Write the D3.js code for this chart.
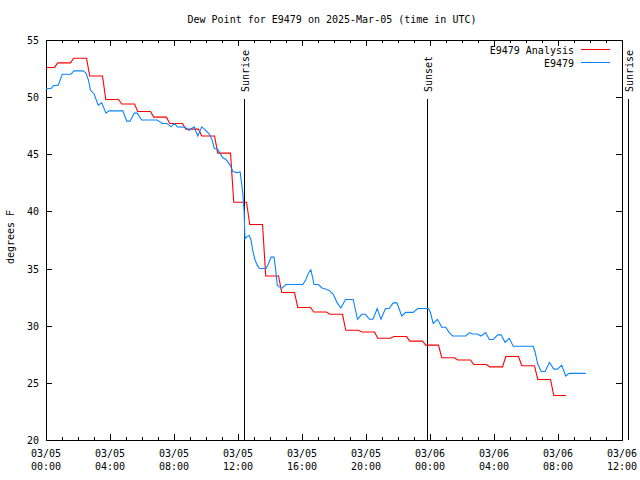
<!DOCTYPE html>
<html><head><meta charset="utf-8">
<script src="https://cdn.jsdelivr.net/npm/d3@7"></script>
<style>body{margin:0;background:#fff}svg{display:block}text{font-family:"DejaVu Sans Mono",monospace;font-size:10px;fill:#000}</style>
</head><body>
<svg id="c" width="640" height="480"></svg>
<script>
const title = "Dew Point for E9479 on 2025-Mar-05 (time in UTC)";
const yLabel = "degrees F";
const yTicks = [20, 25, 30, 35, 40, 45, 50, 55];
const xTickHours = [0, 4, 8, 12, 16, 20, 24, 28, 32, 36];
const xTickDates = ["03/05", "03/05", "03/05", "03/05", "03/05", "03/05", "03/06", "03/06", "03/06", "03/06"];
const xTickTimes = ["00:00", "04:00", "08:00", "12:00", "16:00", "20:00", "00:00", "04:00", "08:00", "12:00"];
const seriesNames = ["E9479 Analysis", "E9479"];
const seriesColors = ["#ff0000", "#0a84ff"];
// hourly analysis values (hour offset from 03/05 00:00 UTC)
const analysisHours = [0,1,2,3,4,5,6,7,8,9,10,11,12,13,14,15,16,17,18,19,20,21,22,23,24,25,26,27,28,29,30,31,32];
const analysisValues = [52.6,53.0,53.4,51.85,49.8,49.4,48.75,48.25,47.7,47.2,46.6,45.1,40.8,38.85,34.35,32.9,31.6,31.2,31.0,29.6,29.45,28.9,29.05,28.65,28.3,27.2,27.0,26.6,26.4,27.3,26.5,25.3,23.9];
// observations (minutes from 03/05 00:00 UTC)
const obsMinutes = [0,19,27,46,61,93,105,139,150,159,167,180,186,196,209,225,236,288,303,315,331,342,359,416,437,453,469,481,494,521,536,556,569,584,596,613,624,631,644,652,663,675,689,701,715,728,738,743,746,753,762,769,775,784,792,800,825,834,844,855,861,867,875,884,890,900,963,974,984,993,1000,1005,1021,1035,1051,1064,1077,1092,1106,1123,1152,1168,1184,1198,1213,1226,1242,1256,1273,1287,1302,1316,1334,1349,1377,1394,1434,1441,1452,1468,1484,1499,1512,1525,1574,1588,1599,1618,1631,1649,1662,1677,1694,1707,1721,1737,1752,1827,1834,1844,1857,1872,1888,1904,1918,1934,1949,1962,2024];
const obsValues = [50.75,50.75,51.0,51.05,52.0,52.0,52.3,52.3,52.1,51.5,50.6,50.3,49.9,49.3,49.5,48.6,48.8,48.8,47.9,47.9,48.6,48.6,48.0,48.0,47.7,47.7,47.4,47.7,47.4,47.36,47.1,47.4,46.6,47.4,47.15,46.75,46.2,45.5,45.45,45.1,44.7,44.55,44.1,43.5,43.4,43.45,41.6,40.0,37.6,37.8,37.9,37.5,36.6,35.75,35.3,35.0,35.0,35.4,36.0,36.0,35.0,33.56,33.4,33.27,33.4,33.6,33.6,34.0,34.6,34.9,34.2,33.6,33.6,33.3,33.2,33.05,32.75,32.0,31.55,32.3,32.3,30.56,31.0,31.0,30.56,30.56,31.5,30.56,31.5,31.5,32.0,32.0,30.85,31.17,31.17,31.5,31.5,31.2,30.2,30.56,29.86,29.86,29.4,29.1,29.1,29.4,29.27,29.27,29.1,29.4,28.8,28.8,29.2,29.2,28.55,28.9,28.2,28.2,27.7,26.65,26.0,26.0,26.8,26.2,26.2,26.55,25.6,25.83,25.83];
const eventNames = ["Sunrise", "Sunset", "Sunrise"];
const eventMinutes = [743, 1430, 2181];

const base = Date.UTC(2025, 2, 5, 0, 0);
const tMin = m => new Date(base + m * 60000);
const tHour = h => tMin(h * 60);

const L = 46, R = 622, T = 40, B = 440;
const svg = d3.select("#c");
const x = d3.scaleUtc().domain([tHour(0), tHour(36)]).range([L, R]);
const y = d3.scaleLinear().domain([20, 55]).range([B, T]);

svg.append("rect").attr("width", 640).attr("height", 480).attr("fill", "#fff");

// title
svg.append("text").attr("x", 332).attr("y", 23).attr("text-anchor", "middle").text(title);
// y label
svg.append("text").attr("transform", "translate(14,237) rotate(-90)").attr("text-anchor", "middle").text(yLabel);

const g = svg.append("g").attr("shape-rendering", "crispEdges");

// axes with inward ticks (mirrored)
const hourly = d3.range(0, 37).map(tHour);
const majors = xTickHours.map(tHour);
g.append("g").attr("transform", `translate(0,${B})`)
  .call(d3.axisBottom(x).tickValues(hourly).tickSize(-3).tickFormat(""))
  .call(a => a.select(".domain").remove());
g.append("g").attr("transform", `translate(0,${B})`)
  .call(d3.axisBottom(x).tickValues(majors).tickSize(-6).tickFormat(""))
  .call(a => a.select(".domain").remove());
g.append("g").attr("transform", `translate(0,${T})`)
  .call(d3.axisTop(x).tickValues(hourly).tickSize(-3).tickFormat(""))
  .call(a => a.select(".domain").remove());
g.append("g").attr("transform", `translate(0,${T})`)
  .call(d3.axisTop(x).tickValues(majors).tickSize(-6).tickFormat(""))
  .call(a => a.select(".domain").remove());
g.append("g").attr("transform", `translate(${L},0)`)
  .call(d3.axisLeft(y).tickValues(yTicks).tickSize(-6).tickFormat(""))
  .call(a => a.select(".domain").remove());
g.append("g").attr("transform", `translate(${R},0)`)
  .call(d3.axisRight(y).tickValues(yTicks).tickSize(-6).tickFormat(""))
  .call(a => a.select(".domain").remove());
g.selectAll(".tick line").attr("stroke", "#000");

// frame
g.append("rect").attr("x", L).attr("y", T).attr("width", R - L).attr("height", B - T)
  .attr("fill", "none").attr("stroke", "#000");

// tick labels
svg.append("g").selectAll("text").data(yTicks).join("text")
  .attr("x", 39).attr("y", d => y(d) + 4).attr("text-anchor", "end").text(d => d);
const xl = svg.append("g").selectAll("g").data(xTickHours).join("g");
xl.append("text").attr("x", d => x(tHour(d))).attr("y", 457).attr("text-anchor", "middle").text((d, i) => xTickDates[i]);
xl.append("text").attr("x", d => x(tHour(d))).attr("y", 470).attr("text-anchor", "middle").text((d, i) => xTickTimes[i]);

// event lines
const ev = svg.append("g").selectAll("g").data(eventMinutes).join("g");
ev.append("line").attr("x1", d => Math.round(x(tMin(d))) + 0.5).attr("x2", d => Math.round(x(tMin(d))) + 0.5)
  .attr("y1", 99).attr("y2", B).attr("stroke", "#000").attr("shape-rendering", "crispEdges");
ev.append("text").attr("transform", d => `translate(${x(tMin(d)) + 5},92) rotate(-90)`)
  .attr("text-anchor", "start").text((d, i) => eventNames[i]);

// analysis series: each hourly value held until the next update
const redPts = [];
analysisHours.forEach((h, i) => {
  const s = i === 0 ? h * 60 : h * 60 - 16;
  const e = i === analysisHours.length - 1 ? h * 60 + 30 : h * 60 + 32;
  redPts.push([tMin(s), analysisValues[i]], [tMin(e), analysisValues[i]]);
});
const line = d3.line().x(d => x(d[0])).y(d => y(d[1]));
svg.append("path").attr("d", line(redPts)).attr("fill", "none").attr("stroke", seriesColors[0]).attr("stroke-width", 1.1);
const bluePts = obsMinutes.map((m, i) => [tMin(m), obsValues[i]]);
svg.append("path").attr("d", line(bluePts)).attr("fill", "none").attr("stroke", seriesColors[1]).attr("stroke-width", 1.1);

// legend
const leg = svg.append("g").selectAll("g").data(seriesNames).join("g")
  .attr("transform", (d, i) => `translate(0,${49.5 + i * 13})`);
leg.append("text").attr("x", 574).attr("y", 4).attr("text-anchor", "end").text(d => d);
leg.append("line").attr("x1", 581).attr("x2", 610).attr("y1", 0).attr("y2", 0)
  .attr("stroke", (d, i) => seriesColors[i]).attr("shape-rendering", "crispEdges");
</script>
</body></html>
